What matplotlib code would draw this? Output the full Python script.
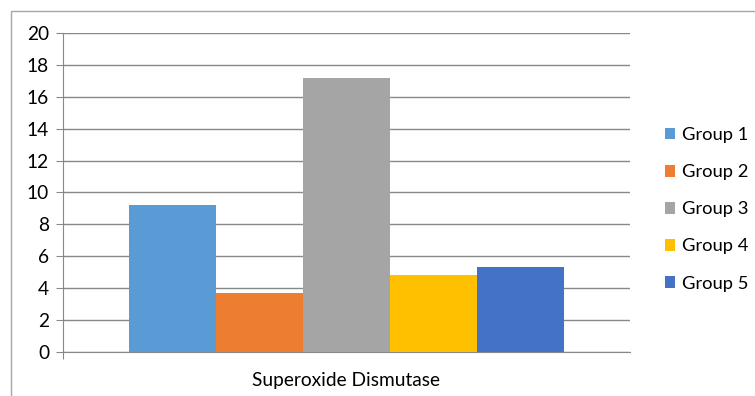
import numpy as np
import matplotlib
matplotlib.use("Agg")
import matplotlib.pyplot as plt
from matplotlib.patches import Rectangle

category = "Superoxide Dismutase"
groups = ["Group 1", "Group 2", "Group 3", "Group 4", "Group 5"]
values = [9.22, 3.68, 17.18, 4.83, 5.33]
colors = ["#5b9bd5", "#ed7d31", "#a5a5a5", "#ffc000", "#4472c4"]
yticks = [0, 2, 4, 6, 8, 10, 12, 14, 16, 18, 20]

plt.rcParams["font.family"] = ["Lato", "DejaVu Sans"]

fig = plt.figure(figsize=(7.55, 3.96), dpi=100)
ax = fig.add_axes([0.0834, 0.111, 0.751, 0.806])

# frame around the whole chart
fig.patches.append(Rectangle((11 / 755, -0.01), 1.0, 1 - 11 / 396 + 0.01,
                             transform=fig.transFigure, fill=False,
                             edgecolor="#a6a6a6", linewidth=1.0))

w = 1.0
xs = (np.arange(len(groups)) - (len(groups) - 1) / 2) * w
for x, v, c, g in zip(xs, values, colors, groups):
    ax.bar(x, v, width=w, color=c, label=g, zorder=3)

ax.set_xlim(-3.26, 3.26)
ax.set_ylim(0, 20)
ax.set_yticks(yticks)
ax.yaxis.grid(True, color="#888888", linewidth=1.0, zorder=0)
ax.set_xticks([-3.26])
ax.set_xticklabels([""])
ax.text(0, -1.8, category, ha="center", va="center", fontsize=13.8,
        color="#000000")

for s in ["top", "right"]:
    ax.spines[s].set_visible(False)
for s in ["left", "bottom"]:
    ax.spines[s].set_color("#888888")
ax.tick_params(axis="y", length=5, color="#888888", labelsize=13.8, pad=5)
ax.tick_params(axis="x", length=5, color="#888888")

ax.legend(loc="center left", bbox_to_anchor=(1.045, 0.447), frameon=False,
          fontsize=13.2, handlelength=0.58, handleheight=0.58,
          handletextpad=0.35, labelspacing=1.15, borderpad=0)

fig.savefig("out.png", dpi=100)
